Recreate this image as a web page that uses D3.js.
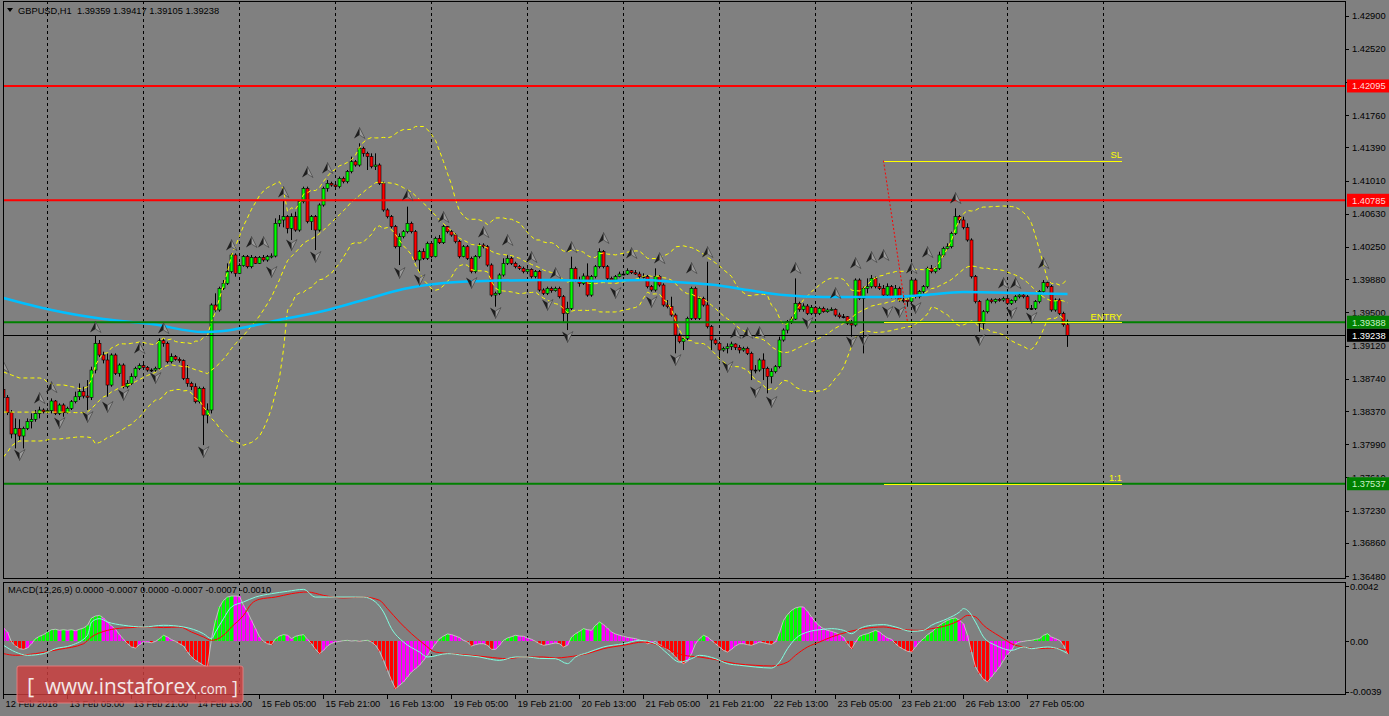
<!DOCTYPE html>
<html><head><meta charset="utf-8">
<script src="https://cdn.jsdelivr.net/npm/d3@7"></script>
<style>html,body{margin:0;padding:0;background:#808080;overflow:hidden}svg{display:block}text{font-family:"Liberation Sans",Arial,sans-serif}</style>
</head><body><svg id="c" width="1389" height="716"></svg>
<script>
// ---------------- DATA ----------------
const symbolTitle = "GBPUSD,H1  1.39359 1.39417 1.39105 1.39238";
const macdTitle = "MACD(12,26,9) 0.0000 -0.0007 0.0000 -0.0007 -0.0007 -0.0010";

const open = [
1.38618,1.38527,1.38351,1.38107,1.38171,1.38084,1.38171,1.38248,1.38275,1.38343,
1.38382,1.38362,1.38374,1.38485,1.38343,1.38439,1.38351,1.38401,1.38477,1.38534,
1.38592,1.38542,1.38527,1.38840,1.39146,1.39012,1.38955,1.38668,1.39012,1.38802,
1.38897,1.38649,1.38687,1.38764,1.38859,1.38890,1.38871,1.38840,1.38840,1.38859,
1.39176,1.39146,1.38935,1.38993,1.38962,1.38947,1.38744,1.38687,1.38649,1.38477,
1.38630,1.38324,1.38382,1.39585,1.39528,1.39776,1.39833,1.39967,1.40158,1.39948,
1.40036,1.40139,1.40024,1.40131,1.40062,1.40131,1.40101,1.40139,1.40146,1.40521,
1.40559,1.40597,1.40463,1.40597,1.40444,1.40769,1.40922,1.40540,1.40597,1.40444,
1.40731,1.40922,1.40979,1.40960,1.40941,1.41036,1.40998,1.41113,1.41227,1.41189,
1.41380,1.41323,1.41285,1.41170,1.41189,1.40979,1.40674,1.40597,1.40483,1.40253,
1.40368,1.40425,1.40521,1.40425,1.40101,1.40196,1.40120,1.40292,1.40139,1.40349,
1.40299,1.40483,1.40425,1.40387,1.40311,1.40139,1.40253,1.40120,1.39967,1.40139,
1.40272,1.40253,1.40043,1.39699,1.39719,1.39929,1.40062,1.40120,1.40062,1.40024,
1.40005,1.39967,1.39994,1.39910,1.39967,1.39757,1.39719,1.39776,1.39749,1.39776,
1.39680,1.39489,1.39547,1.40005,1.39871,1.39833,1.39917,1.39699,1.39910,1.40024,
1.40196,1.40024,1.39890,1.39871,1.39910,1.39940,1.39940,1.39978,1.39955,1.39940,
1.39910,1.39910,1.39795,1.39757,1.39910,1.39814,1.39585,1.39566,1.39470,1.39241,
1.39165,1.39203,1.39432,1.39776,1.39432,1.39661,1.39585,1.39337,1.39184,1.39146,
1.39069,1.39088,1.39107,1.39138,1.39100,1.39069,1.39088,1.39031,1.38840,1.38840,
1.38955,1.38859,1.38764,1.38821,1.38878,1.39184,1.39298,1.39394,1.39424,1.39604,
1.39535,1.39573,1.39489,1.39558,1.39489,1.39547,1.39508,1.39528,1.39535,1.39470,
1.39451,1.39451,1.39375,1.39356,1.39871,1.39661,1.39776,1.39795,1.39890,1.39795,
1.39776,1.39699,1.39795,1.39680,1.39776,1.39642,1.39642,1.39623,1.39871,1.39680,
1.39738,1.39795,1.40005,1.39967,1.40005,1.40158,1.40234,1.40253,1.40406,1.40597,
1.40559,1.40475,1.40330,1.39910,1.39623,1.39375,1.39508,1.39642,1.39623,1.39650,
1.39642,1.39661,1.39604,1.39635,1.39680,1.39699,1.39680,1.39547,1.39547,1.39623,
1.39738,1.39841,1.39795,1.39528,1.39642,1.39489,1.39359];

const high = [
1.38687,1.38553,1.38382,1.38286,1.38275,1.38191,1.38286,1.38343,1.38382,1.38420,
1.38401,1.38401,1.38515,1.38496,1.38458,1.38458,1.38420,1.38496,1.38592,1.38687,
1.38649,1.38725,1.38878,1.39230,1.39184,1.39050,1.39031,1.39031,1.39031,1.38916,
1.38916,1.38725,1.38802,1.38878,1.38916,1.38916,1.38886,1.38859,1.38878,1.39203,
1.39203,1.39165,1.39031,1.39012,1.38985,1.38962,1.38897,1.38706,1.38687,1.38649,
1.38649,1.38458,1.39604,1.39719,1.39795,1.39871,1.40062,1.40177,1.40177,1.40062,
1.40158,1.40158,1.40158,1.40146,1.40146,1.40158,1.40158,1.40177,1.40578,1.40616,
1.40788,1.40616,1.40635,1.40654,1.40788,1.40941,1.40941,1.40616,1.40616,1.40750,
1.40941,1.41017,1.40998,1.40979,1.41056,1.41056,1.41132,1.41285,1.41247,1.41438,
1.41399,1.41342,1.41323,1.41323,1.41208,1.40998,1.40693,1.40616,1.40502,1.40406,
1.40444,1.40712,1.40540,1.40444,1.40215,1.40234,1.40311,1.40311,1.40368,1.40387,
1.40502,1.40490,1.40444,1.40406,1.40330,1.40272,1.40272,1.40139,1.40158,1.40292,
1.40292,1.40272,1.40062,1.39738,1.39948,1.40120,1.40158,1.40139,1.40081,1.40043,
1.40024,1.40005,1.40005,1.39986,1.39986,1.39776,1.39795,1.39795,1.39795,1.39795,
1.39699,1.39623,1.40139,1.40024,1.39910,1.39948,1.40062,1.39929,1.40043,1.40234,
1.40215,1.40043,1.39910,1.39929,1.39967,1.39967,1.40005,1.39986,1.39986,1.39967,
1.39948,1.39929,1.39814,1.40005,1.39929,1.39833,1.39642,1.39680,1.39489,1.39260,
1.39222,1.39451,1.39795,1.39795,1.39680,1.39680,1.40081,1.39356,1.39203,1.39165,
1.39107,1.39146,1.39165,1.39146,1.39126,1.39107,1.39107,1.39050,1.38897,1.38974,
1.39031,1.38878,1.38859,1.38897,1.39222,1.39317,1.39413,1.39451,1.39890,1.39623,
1.39604,1.39596,1.39585,1.39573,1.39566,1.39566,1.39547,1.39558,1.39547,1.39497,
1.39482,1.39459,1.39413,1.39890,1.39890,1.39795,1.39890,1.39929,1.39910,1.39833,
1.39814,1.39833,1.39814,1.39814,1.39795,1.39680,1.39661,1.39890,1.39890,1.39757,
1.39814,1.40024,1.40043,1.40024,1.40196,1.40253,1.40292,1.40425,1.40693,1.40616,
1.40597,1.40521,1.40349,1.39929,1.39642,1.39528,1.39661,1.39661,1.39661,1.39665,
1.39680,1.39680,1.39650,1.39699,1.39719,1.39719,1.39699,1.39585,1.39642,1.39757,
1.39871,1.39852,1.39814,1.39661,1.39661,1.39508,1.39417];

const low = [
1.38496,1.38324,1.38057,1.37942,1.38038,1.37942,1.38152,1.38171,1.38248,1.38286,
1.38343,1.38343,1.38343,1.38324,1.38324,1.38305,1.38343,1.38382,1.38458,1.38496,
1.38515,1.38382,1.38496,1.38802,1.38985,1.38916,1.38534,1.38649,1.38783,1.38764,
1.38630,1.38630,1.38668,1.38744,1.38840,1.38848,1.38821,1.38817,1.38821,1.38840,
1.39107,1.38916,1.38916,1.38947,1.38924,1.38725,1.38649,1.38611,1.38458,1.38458,
1.37980,1.38229,1.38343,1.39508,1.39508,1.39757,1.39814,1.39948,1.39910,1.39940,
1.40024,1.40005,1.40005,1.40055,1.40055,1.40081,1.40081,1.40120,1.40131,1.40483,
1.40475,1.40406,1.40330,1.40425,1.40425,1.40750,1.40521,1.40444,1.40215,1.40425,
1.40712,1.40884,1.40941,1.40903,1.40922,1.40979,1.40979,1.41094,1.41170,1.41170,
1.41285,1.41132,1.41151,1.41132,1.40960,1.40654,1.40578,1.40463,1.40234,1.40043,
1.40349,1.40406,1.40406,1.40081,1.39967,1.40101,1.40101,1.40120,1.40131,1.40284,
1.40284,1.40406,1.40368,1.40292,1.40120,1.40131,1.40101,1.39948,1.39948,1.40120,
1.40234,1.40024,1.39680,1.39566,1.39699,1.39910,1.40043,1.40043,1.40005,1.39986,
1.39948,1.39948,1.39890,1.39890,1.39738,1.39699,1.39699,1.39726,1.39738,1.39661,
1.39394,1.39298,1.39528,1.39852,1.39795,1.39814,1.39680,1.39680,1.39890,1.40005,
1.40005,1.39871,1.39852,1.39852,1.39902,1.39925,1.39929,1.39940,1.39929,1.39890,
1.39890,1.39776,1.39738,1.39738,1.39795,1.39566,1.39547,1.39451,1.39031,1.39146,
1.39069,1.39184,1.39413,1.39413,1.39413,1.39566,1.39317,1.39069,1.39126,1.38955,
1.39050,1.39031,1.39069,1.39069,1.39031,1.39050,1.39012,1.38725,1.38802,1.38821,
1.38725,1.38573,1.38687,1.38802,1.38859,1.39165,1.39260,1.39367,1.39413,1.39508,
1.39508,1.39470,1.39470,1.39451,1.39470,1.39497,1.39497,1.39520,1.39451,1.39432,
1.39432,1.39356,1.39222,1.39337,1.39642,1.39031,1.39719,1.39776,1.39776,1.39757,
1.39680,1.39680,1.39661,1.39661,1.39623,1.39612,1.39566,1.39604,1.39661,1.39661,
1.39719,1.39776,1.39948,1.39948,1.39986,1.40139,1.40215,1.40234,1.40387,1.40521,
1.40452,1.40311,1.39890,1.39604,1.39279,1.39298,1.39489,1.39604,1.39604,1.39623,
1.39623,1.39585,1.39585,1.39612,1.39661,1.39661,1.39528,1.39528,1.39528,1.39604,
1.39719,1.39776,1.39508,1.39508,1.39470,1.39337,1.39105];

const close = [
1.38527,1.38351,1.38107,1.38171,1.38084,1.38171,1.38248,1.38275,1.38343,1.38382,
1.38362,1.38374,1.38485,1.38343,1.38439,1.38351,1.38401,1.38477,1.38534,1.38592,
1.38542,1.38527,1.38840,1.39146,1.39012,1.38955,1.38668,1.39012,1.38802,1.38897,
1.38649,1.38687,1.38764,1.38859,1.38890,1.38871,1.38840,1.38840,1.38859,1.39176,
1.39146,1.38935,1.38993,1.38962,1.38947,1.38744,1.38687,1.38649,1.38477,1.38630,
1.38324,1.38382,1.39585,1.39528,1.39776,1.39833,1.39967,1.40158,1.39948,1.40036,
1.40139,1.40024,1.40131,1.40062,1.40131,1.40101,1.40139,1.40146,1.40521,1.40559,
1.40597,1.40463,1.40597,1.40444,1.40769,1.40922,1.40540,1.40597,1.40444,1.40731,
1.40922,1.40979,1.40960,1.40941,1.41036,1.40998,1.41113,1.41227,1.41189,1.41380,
1.41323,1.41285,1.41170,1.41189,1.40979,1.40674,1.40597,1.40483,1.40253,1.40368,
1.40425,1.40521,1.40425,1.40101,1.40196,1.40120,1.40292,1.40139,1.40349,1.40299,
1.40483,1.40425,1.40387,1.40311,1.40139,1.40253,1.40120,1.39967,1.40139,1.40272,
1.40253,1.40043,1.39699,1.39719,1.39929,1.40062,1.40120,1.40062,1.40024,1.40005,
1.39967,1.39994,1.39910,1.39967,1.39757,1.39719,1.39776,1.39749,1.39776,1.39680,
1.39489,1.39547,1.40005,1.39871,1.39833,1.39917,1.39699,1.39910,1.40024,1.40196,
1.40024,1.39890,1.39871,1.39910,1.39940,1.39940,1.39978,1.39955,1.39940,1.39910,
1.39910,1.39795,1.39757,1.39910,1.39814,1.39585,1.39566,1.39470,1.39241,1.39165,
1.39203,1.39432,1.39776,1.39432,1.39661,1.39585,1.39337,1.39184,1.39146,1.39069,
1.39088,1.39107,1.39138,1.39100,1.39069,1.39088,1.39031,1.38840,1.38840,1.38955,
1.38859,1.38764,1.38821,1.38878,1.39184,1.39298,1.39394,1.39424,1.39604,1.39535,
1.39573,1.39489,1.39558,1.39489,1.39547,1.39508,1.39528,1.39535,1.39470,1.39451,
1.39451,1.39375,1.39356,1.39871,1.39661,1.39776,1.39795,1.39890,1.39795,1.39776,
1.39699,1.39795,1.39680,1.39776,1.39642,1.39642,1.39623,1.39871,1.39680,1.39738,
1.39795,1.40005,1.39967,1.40005,1.40158,1.40234,1.40253,1.40406,1.40597,1.40559,
1.40475,1.40330,1.39910,1.39623,1.39375,1.39508,1.39642,1.39623,1.39650,1.39642,
1.39661,1.39604,1.39635,1.39680,1.39699,1.39680,1.39547,1.39547,1.39623,1.39738,
1.39841,1.39795,1.39528,1.39642,1.39489,1.39359,1.39238];

// Bollinger band values at the left edge (before a full 20-bar window exists)
const bbUpperEarly = [1.38818,1.38800,1.38783,1.38766,1.38749,1.38749,1.38749,1.38749,1.38749,1.38749,1.38740,1.38700,1.38680,1.38669,1.38669,1.38669,1.38660,1.38650,1.38640];
const bbMidEarly   = [1.38358,1.38358,1.38358,1.38358,1.38358,1.38358,1.38358,1.38358,1.38358,1.38358,1.38358,1.38358,1.38358,1.38358,1.38358,1.38358,1.38358,1.38355,1.38352];
const bbLowerEarly = [1.37844,1.37901,1.37970,1.38004,1.38027,1.38027,1.38027,1.38027,1.38027,1.38027,1.38030,1.38040,1.38050,1.38050,1.38050,1.38055,1.38060,1.38065,1.38070];

// blue moving average, sampled along the line
const maBars   = [0,12,25,37,50,55,62,70,80,90,100,110,120,135,150,160,168,178,186,195,205,220,230,240,255,266];
const maValues = [1.39665,1.39527,1.39424,1.39367,1.39275,1.39287,1.39344,1.39424,1.39516,1.39642,1.39768,1.39837,1.39860,1.39871,1.39860,1.39871,1.39848,1.39814,1.39757,1.39699,1.39676,1.39676,1.39699,1.39734,1.39722,1.39711];

// horizontal levels
const redLevels = [1.42095, 1.40785];
const greenLevels = [1.39388, 1.37537];
const bidPrice = 1.39238;
const tradeNames = ["SL", "ENTRY", "1:1"];
const tradeLevels = [1.41239, 1.39388, 1.37537];
const tradeFromBar = 220, tradeToBar = 279.6, tradeLinkToBar = 226;

// fractal arrows
const upBars = [0,9,12,23,34,40,57,62,65,70,76,81,89,101,110,120,126,132,138,142,150,157,164,172,176,183,186,189,198,208,213,217,220,227,231,238,250,253,260];
const upPrices = [1.38874,1.38519,1.38645,1.39333,1.39092,1.39321,1.40272,1.40307,1.40307,1.40880,1.41109,1.41155,1.41556,1.40845,1.40593,1.40421,1.40330,1.40135,1.39951,1.40249,1.40353,1.40181,1.40123,1.40009,1.40192,1.39264,1.39264,1.39275,1.40009,1.39722,1.40066,1.40135,1.40158,1.40009,1.40192,1.40811,1.39837,1.39837,1.40066];
const downBars = [4,14,21,26,30,38,50,67,72,78,99,104,117,123,136,141,153,162,168,181,188,192,201,212,215,221,224,228,244,252,257];
const downPrices = [1.37866,1.38232,1.38301,1.38416,1.38553,1.38748,1.37900,1.39963,1.40272,1.40135,1.39951,1.39871,1.39837,1.39493,1.39585,1.39218,1.39722,1.39619,1.38954,1.38874,1.38588,1.38473,1.39378,1.39161,1.39184,1.39505,1.39505,1.39550,1.39184,1.39493,1.39436];

// MACD histogram, one value per bar
const macdHist = [
0.00100,0.00069,-0.00008,-0.00038,-0.00059,-0.00064,-0.00054,-0.00021,0.00018,0.00036,
0.00049,0.00069,0.00087,0.00090,0.00082,0.00087,0.00082,0.00087,0.00079,0.00090,
0.00100,0.00121,0.00177,0.00192,0.00197,0.00177,0.00146,0.00115,0.00090,0.00049,
0.00013,-0.00021,-0.00046,-0.00054,-0.00028,-0.00008,-0.00008,-0.00013,-0.00003,0.00018,
0.00044,0.00031,0.00010,-0.00003,-0.00021,-0.00038,-0.00085,-0.00123,-0.00149,-0.00167,
-0.00187,-0.00200,0.00018,0.00159,0.00262,0.00313,0.00338,0.00346,0.00346,0.00344,
0.00274,0.00223,0.00159,0.00095,0.00031,-0.00003,-0.00021,-0.00028,0.00018,0.00038,
0.00049,0.00044,0.00018,0.00036,0.00044,0.00049,0.00013,-0.00021,-0.00064,-0.00097,
-0.00072,-0.00038,-0.00018,-0.00008,-0.00003,0.00003,0.00005,0.00000,0.00003,-0.00003,
0.00003,0.00005,-0.00008,-0.00033,-0.00079,-0.00149,-0.00226,-0.00303,-0.00367,-0.00341,
-0.00315,-0.00277,-0.00238,-0.00213,-0.00187,-0.00149,-0.00110,-0.00064,-0.00021,0.00018,
0.00038,0.00054,0.00049,0.00038,0.00026,0.00005,-0.00008,-0.00038,-0.00028,-0.00021,
-0.00021,-0.00033,-0.00064,-0.00064,-0.00033,0.00005,0.00023,0.00033,0.00044,0.00038,
0.00036,0.00023,0.00013,-0.00003,-0.00021,-0.00033,-0.00028,-0.00021,-0.00015,-0.00021,
-0.00046,-0.00033,0.00031,0.00056,0.00074,0.00095,0.00087,0.00082,0.00121,0.00146,
0.00126,0.00100,0.00069,0.00054,0.00044,0.00036,0.00028,0.00023,0.00018,0.00008,
-0.00003,-0.00021,-0.00013,-0.00003,-0.00028,-0.00046,-0.00064,-0.00090,-0.00123,-0.00156,
-0.00174,-0.00156,-0.00097,-0.00021,0.00018,0.00044,0.00031,0.00005,-0.00021,-0.00046,
-0.00072,-0.00085,-0.00064,-0.00038,-0.00021,-0.00021,-0.00028,-0.00033,-0.00021,-0.00008,
-0.00013,-0.00021,-0.00026,-0.00008,0.00064,0.00159,0.00203,0.00236,0.00254,0.00262,
0.00262,0.00228,0.00185,0.00146,0.00115,0.00095,0.00082,0.00074,0.00064,0.00049,
0.00028,-0.00021,-0.00059,-0.00008,0.00036,0.00049,0.00056,0.00069,0.00082,0.00069,
0.00044,0.00023,0.00013,-0.00021,-0.00046,-0.00064,-0.00079,-0.00085,-0.00046,-0.00008,
0.00018,0.00049,0.00069,0.00095,0.00121,0.00141,0.00159,0.00172,0.00177,0.00159,
0.00133,0.00044,-0.00085,-0.00200,-0.00251,-0.00295,-0.00315,-0.00277,-0.00238,-0.00200,
-0.00149,-0.00105,-0.00072,-0.00021,-0.00008,-0.00003,0.00003,0.00005,0.00013,0.00018,
0.00044,0.00056,0.00031,0.00018,0.00005,-0.00033,-0.00100];

// MACD lines, sampled along each line
const cyanBars = [0,3,6,10,13,17,21,22,24,26,30,35,40,45,50,52,53,55,57,60,63,67,71,75,78,81,88,90,93,95,97,100,104,106,111,115,119,121,124,128,131,134,138,141,143,146,150,155,159,163,166,169,172,174,178,181,184,188,192,194,196,198,201,205,207,210,212,214,217,220,223,227,230,232,236,239,240,241,243,245,248,250,252,255,257,261,264,266];
const cyanValues = [-0.00033,-0.00085,-0.00110,-0.00097,-0.00059,-0.00033,0.00044,0.00146,0.00172,0.00146,0.00121,0.00108,0.00121,0.00108,0.00056,0.00018,0.00069,0.00172,0.00262,0.00300,0.00338,0.00364,0.00382,0.00397,0.00338,0.00338,0.00338,0.00338,0.00300,0.00223,0.00095,-0.00008,-0.00085,-0.00123,-0.00097,-0.00110,-0.00123,-0.00136,-0.00149,-0.00123,-0.00123,-0.00134,-0.00136,-0.00174,-0.00123,-0.00090,-0.00046,-0.00021,0.00005,-0.00021,-0.00097,-0.00162,-0.00136,-0.00110,-0.00136,-0.00174,-0.00187,-0.00200,-0.00208,-0.00162,-0.00059,0.00018,0.00069,0.00090,0.00095,0.00082,0.00056,0.00095,0.00121,0.00126,0.00108,0.00074,0.00082,0.00121,0.00172,0.00223,0.00249,0.00236,0.00146,0.00031,-0.00033,-0.00059,-0.00072,-0.00046,-0.00059,-0.00046,-0.00064,-0.00097];
const redBars = [0,3,8,14,20,22,26,30,37,40,44,47,50,52,55,57,60,62,64,68,72,76,80,85,90,94,96,99,102,105,108,112,117,121,126,130,135,138,141,146,150,155,160,165,170,174,179,183,188,192,196,198,201,204,207,211,215,220,223,229,232,236,239,241,243,245,248,250,252,255,259,262,266];
const redValues = [-0.00097,-0.00110,-0.00097,-0.00064,-0.00021,0.00031,0.00082,0.00100,0.00108,0.00103,0.00108,0.00069,0.00031,0.00005,0.00044,0.00108,0.00197,0.00287,0.00321,0.00338,0.00364,0.00377,0.00351,0.00331,0.00338,0.00313,0.00249,0.00146,0.00056,-0.00021,-0.00085,-0.00097,-0.00110,-0.00123,-0.00136,-0.00123,-0.00123,-0.00131,-0.00123,-0.00097,-0.00059,-0.00033,-0.00008,-0.00046,-0.00110,-0.00123,-0.00149,-0.00174,-0.00187,-0.00192,-0.00162,-0.00110,-0.00046,-0.00008,0.00031,0.00069,0.00095,0.00108,0.00095,0.00082,0.00095,0.00121,0.00159,0.00197,0.00185,0.00121,0.00056,0.00018,-0.00021,-0.00046,-0.00059,-0.00054,-0.00072];

// axes
const priceTicks = [1.42900,1.42520,1.42140,1.41760,1.41390,1.41010,1.40630,1.40250,1.39880,1.39500,1.39120,1.38740,1.38370,1.37990,1.37610,1.37230,1.36860,1.36480];
const macdTicks = [0.0042, 0, -0.0039];
const macdTickLabels = ["0.0042", "0.00", "-0.0039"];
const timeLabels = ["12 Feb 2018","13 Feb 05:00","13 Feb 21:00","14 Feb 13:00","15 Feb 05:00","15 Feb 21:00","16 Feb 13:00","19 Feb 05:00","19 Feb 21:00","20 Feb 13:00","21 Feb 05:00","21 Feb 21:00","22 Feb 13:00","23 Feb 05:00","23 Feb 21:00","26 Feb 13:00","27 Feb 05:00"];
const timeLabelBars = [0,16,32,48,64,80,96,112,128,144,160,176,192,208,224,240,256];
const daySeparatorBars = [11,35,59,83,107,131,155,179,203,227,251,275];

// ---------------- DRAWING ----------------
const svg = d3.select('#c');
const W = 1389, H = 716;
const PL = 3, PR = 1346, MT = 1, MB = 579, ST = 582, SB = 695;
const FS = "9.3px";

const x = d3.scaleLinear().domain([0, 335.5]).range([3.5, 1345.5]);
const y = d3.scaleLinear().domain([1.36480, 1.42900]).range([576.0, 15.7]);
const ym = d3.scaleLinear().domain([-0.0039, 0.0042]).range([691.7, 586.4]);

svg.append('rect').attr('width', W).attr('height', H).attr('fill', '#808080');

const defs = svg.append('defs');
defs.append('clipPath').attr('id', 'mclip').append('rect').attr('x', PL).attr('y', MT).attr('width', PR - PL).attr('height', MB - MT);
defs.append('clipPath').attr('id', 'sclip').append('rect').attr('x', PL).attr('y', ST).attr('width', PR - PL).attr('height', SB - ST);

// day separators
const grid = svg.append('g').attr('stroke', '#000').attr('stroke-width', 1).attr('stroke-dasharray', '3,3').attr('shape-rendering', 'crispEdges');
daySeparatorBars.forEach(b => {
  grid.append('line').attr('x1', x(b)).attr('x2', x(b)).attr('y1', MT).attr('y2', MB);
  grid.append('line').attr('x1', x(b)).attr('x2', x(b)).attr('y1', ST).attr('y2', SB);
});

const main = svg.append('g').attr('clip-path', 'url(#mclip)');

// candles
const cg = main.append('g');
cg.selectAll('line.w').data(close).join('line').attr('class', 'w')
  .attr('x1', (d, i) => x(i)).attr('x2', (d, i) => x(i))
  .attr('y1', (d, i) => y(high[i])).attr('y2', (d, i) => y(low[i]))
  .attr('stroke', '#000').attr('stroke-width', 1);
cg.selectAll('rect.b').data(close).join('rect').attr('class', 'b')
  .attr('x', (d, i) => x(i) - 1.5).attr('width', 3)
  .attr('y', (d, i) => y(Math.max(open[i], d)))
  .attr('height', (d, i) => Math.max(1, y(Math.min(open[i], d)) - y(Math.max(open[i], d))))
  .attr('fill', (d, i) => d > open[i] ? '#00ff00' : (d < open[i] ? '#ff0000' : '#000'))
  .attr('stroke', '#000').attr('stroke-width', 0.6);

// Bollinger bands (20, 2) computed from the closes
const bbU = [], bbM = [], bbL = [];
close.forEach((c, i) => {
  if (i < 19) { bbU.push(bbUpperEarly[i]); bbM.push(bbMidEarly[i]); bbL.push(bbLowerEarly[i]); return; }
  const w = close.slice(i - 19, i + 1);
  const m = d3.mean(w);
  const sd = Math.sqrt(d3.mean(w, v => (v - m) * (v - m)));
  bbU.push(m + 2 * sd); bbM.push(m); bbL.push(m - 2 * sd);
});
const bbLine = d3.line().x((d, i) => x(i)).y(d => y(d));
[bbU, bbM, bbL].forEach(arr => {
  main.append('path').attr('d', bbLine(arr)).attr('fill', 'none').attr('stroke', '#ffff00').attr('stroke-width', 1).attr('stroke-dasharray', '4,3');
});

// moving average
const maLine = d3.line().x(d => x(d[0])).y(d => y(d[1])).curve(d3.curveMonotoneX);
main.append('path').attr('d', maLine(d3.zip(maBars, maValues))).attr('fill', 'none').attr('stroke', '#00bfff').attr('stroke-width', 2.5);

// horizontal level lines
redLevels.forEach(v => main.append('line').attr('x1', PL).attr('x2', PR).attr('y1', y(v)).attr('y2', y(v)).attr('stroke', '#ff0000').attr('stroke-width', 2));
greenLevels.forEach(v => main.append('line').attr('x1', PL).attr('x2', PR).attr('y1', y(v)).attr('y2', y(v)).attr('stroke', '#008000').attr('stroke-width', 2));
main.append('line').attr('x1', PL).attr('x2', PR).attr('y1', Math.round(y(bidPrice)) + 0.5).attr('y2', Math.round(y(bidPrice)) + 0.5).attr('stroke', '#000').attr('stroke-width', 1);

// trade lines
tradeLevels.forEach((v, k) => {
  main.append('line').attr('x1', x(tradeFromBar)).attr('x2', x(tradeToBar)).attr('y1', Math.round(y(v)) + 0.5).attr('y2', Math.round(y(v)) + 0.5)
    .attr('stroke', '#ffff00').attr('stroke-width', 1).attr('shape-rendering', 'crispEdges');
  main.append('text').attr('x', x(tradeToBar)).attr('y', y(v) - 2.5).attr('text-anchor', 'end').attr('font-size', FS).attr('fill', '#ffff00').text(tradeNames[k]);
});
main.append('line').attr('x1', x(tradeFromBar)).attr('y1', y(tradeLevels[0])).attr('x2', x(tradeLinkToBar)).attr('y2', y(tradeLevels[1]))
  .attr('stroke', '#ff0000').attr('stroke-width', 1).attr('stroke-dasharray', '2,2');

// fractal arrows
const ag = main.append('g');
function arrow(cx, cy, up) {
  const s = up ? 1 : -1;
  ag.append('path').attr('d', `M${cx},${cy - 5.5 * s}L${cx - 5.5},${cy + 5.5 * s}L${cx},${cy + 2 * s}Z`).attr('fill', '#1e1e1e');
  ag.append('path').attr('d', `M${cx},${cy - 5.5 * s}L${cx + 5.5},${cy + 5.5 * s}L${cx},${cy + 2 * s}Z`).attr('fill', '#9a9a9a').attr('stroke', '#3a3a3a').attr('stroke-width', 0.6);
}
upBars.forEach((b, k) => arrow(x(b), y(upPrices[k]), true));
downBars.forEach((b, k) => arrow(x(b), y(downPrices[k]), false));

// MACD panel
const sub = svg.append('g').attr('clip-path', 'url(#sclip)');
sub.selectAll('rect.h').data(macdHist).join('rect').attr('class', 'h')
  .attr('x', (d, i) => x(i) - 1.5).attr('width', 3)
  .attr('y', d => Math.min(ym(0), ym(d)))
  .attr('height', d => Math.abs(ym(d) - ym(0)))
  .attr('fill', (d, i) => {
    const p = i > 0 ? macdHist[i - 1] : d;
    if (d >= 0) return d > p ? '#00ff00' : '#ff00ff';
    return d < p ? '#ff0000' : '#ff00ff';
  });
sub.append('path').attr('d', d3.line().x((d, i) => x(i)).y(d => ym(d))(macdHist)).attr('fill', 'none').attr('stroke', '#d0d0d0').attr('stroke-width', 0.8);
const mLine = d3.line().x(d => x(d[0])).y(d => ym(d[1])).curve(d3.curveMonotoneX);
sub.append('path').attr('d', mLine(d3.zip(redBars, redValues))).attr('fill', 'none').attr('stroke', '#ff0000').attr('stroke-width', 1);
sub.append('path').attr('d', mLine(d3.zip(cyanBars, cyanValues))).attr('fill', 'none').attr('stroke', '#80ffe0').attr('stroke-width', 1);

// panel borders
svg.append('rect').attr('x', PL + 0.5).attr('y', MT + 0.5).attr('width', PR - PL - 1).attr('height', MB - MT - 1).attr('fill', 'none').attr('stroke', '#000');
svg.append('rect').attr('x', PL + 0.5).attr('y', ST + 0.5).attr('width', PR - PL - 1).attr('height', SB - ST - 1).attr('fill', 'none').attr('stroke', '#000');

// price axis
const pa = svg.append('g');
const boxLevels = redLevels.concat(greenLevels, [bidPrice]);
priceTicks.forEach((t, k) => {
  const yy = Math.round(y(t)) + 0.5;
  pa.append('line').attr('x1', PR - 1).attr('x2', PR + 3).attr('y1', yy).attr('y2', yy).attr('stroke', '#000');
  const lbl = pa.append('text').attr('x', 1352).attr('y', y(t) + 3.5).attr('font-size', FS).attr('fill', '#000').text(t.toFixed(5));
  // a label that sits under a line's price box only peeks out above it, as in the terminal
  const cover = boxLevels.find(v => Math.abs(y(v) - y(t)) < 10);
  if (cover !== undefined) {
    const id = 'tc' + k;
    defs.append('clipPath').attr('id', id).append('rect').attr('x', 1347).attr('y', 0).attr('width', 42).attr('height', y(cover) - 6.5);
    lbl.attr('clip-path', `url(#${id})`);
  }
});
macdTicks.forEach((t, k) => {
  const yy = Math.round(ym(t)) + 0.5;
  pa.append('line').attr('x1', PR - 1).attr('x2', PR + 3).attr('y1', yy).attr('y2', yy).attr('stroke', '#000');
  pa.append('text').attr('x', 1350).attr('y', ym(t) + 3.5).attr('font-size', FS).attr('fill', '#000').text(macdTickLabels[k]);
});

// price labels of lines
function priceBox(v, bg, fg) {
  const yy = y(v);
  pa.append('rect').attr('x', 1347).attr('y', yy - 6.5).attr('width', 42).attr('height', 13).attr('fill', bg);
  pa.append('text').attr('x', 1352).attr('y', yy + 3.5).attr('font-size', FS).attr('fill', fg).text(v.toFixed(5));
}
redLevels.forEach(v => priceBox(v, '#ff0000', '#ffd8d8'));
greenLevels.forEach(v => priceBox(v, '#008000', '#c8f0c8'));
priceBox(bidPrice, '#000000', '#ffffff');

// time axis
const ta = svg.append('g');
timeLabelBars.forEach((b, k) => {
  ta.append('line').attr('x1', x(b)).attr('x2', x(b)).attr('y1', SB).attr('y2', SB + 4).attr('stroke', '#000');
  ta.append('text').attr('x', x(b) + 2).attr('y', 707).attr('font-size', FS).attr('fill', '#000').text(timeLabels[k]);
});

// titles
svg.append('path').attr('d', 'M7,8L13,8L10,12Z').attr('fill', '#000');
svg.append('text').attr('x', 18).attr('y', 14).attr('font-size', FS).attr('fill', '#000').attr('xml:space', 'preserve').text(symbolTitle);
svg.append('text').attr('x', 8).attr('y', 593).attr('font-size', FS).attr('fill', '#000').text(macdTitle);

// watermark
const wm = svg.append('g');
wm.append('rect').attr('x', 17).attr('y', 666).attr('width', 226).attr('height', 37).attr('rx', 2)
  .attr('fill', 'rgba(204,62,62,0.82)').attr('stroke', 'rgba(230,130,130,0.9)').attr('stroke-width', 1);
wm.append('text').attr('x', 27).attr('y', 694).attr('font-size', '22px').attr('fill', '#f4e8e8').style('font-family', '"Open Sans",sans-serif').text('[');
wm.append('text').attr('x', 45).attr('y', 694).attr('font-size', '22px').attr('fill', '#f4e8e8').style('font-family', '"Open Sans",sans-serif')
  .attr('textLength', 151).attr('lengthAdjust', 'spacingAndGlyphs').text('www.instaforex');
wm.append('text').attr('x', 197).attr('y', 694).attr('font-size', '15px').attr('fill', '#f4e8e8').style('font-family', '"Open Sans",sans-serif')
  .attr('textLength', 30).attr('lengthAdjust', 'spacingAndGlyphs').text('.com');
wm.append('text').attr('x', 232).attr('y', 694).attr('font-size', '18px').attr('fill', '#f4e8e8').style('font-family', '"Open Sans",sans-serif').text(']');
</script></body></html>
